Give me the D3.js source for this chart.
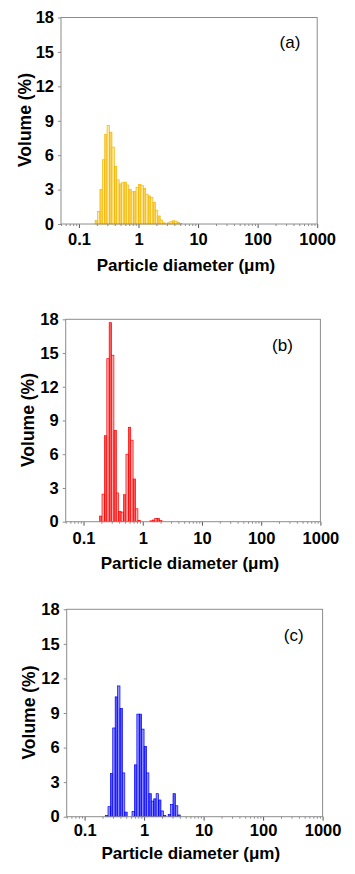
<!DOCTYPE html>
<html>
<head>
<meta charset="utf-8">
<script src="https://cdn.jsdelivr.net/npm/d3@7"></script>
<style>
  html, body { margin: 0; padding: 0; background: #fff; }
  svg { display: block; }
  text { font-family: "Liberation Sans", Arial, sans-serif; }
</style>
</head>
<body>
<svg id="chart" width="355" height="874"></svg>
<script>
// ---- data ----
// channel sizes (µm), bar centres
const sizes = [0.196, 0.215, 0.236, 0.259, 0.284, 0.311, 0.342, 0.375, 0.412, 0.452,
               0.496, 0.545, 0.598, 0.656, 0.721, 0.791, 0.868, 0.953, 1.047, 1.149,
               1.261, 1.385, 1.520, 1.669, 1.832, 2.011, 2.208, 2.423, 2.660, 2.920,
               3.206, 3.519, 3.863, 4.241, 4.656, 5.111];
// volume (%) per channel
const volA = [0.3, 1.1, 3.0, 5.6, 7.8, 8.6, 8.0, 6.7, 5.0, 3.85,
              3.5, 3.6, 3.65, 3.4, 3.0, 2.8, 2.85, 3.2, 3.45, 3.35,
              3.1, 2.6, 2.45, 2.3, 1.9, 1.2, 0.7, 0.35, 0.1, 0.03,
              0.1, 0.2, 0.28, 0.25, 0.15, 0.05];
const volB = [0.5, 2.45, 7.65, 14.5, 17.7, 14.8, 8.1, 2.55, 0.9, 0.85,
              2.4, 6.0, 8.4, 7.25, 3.8, 1.15, 0.12, 0, 0, 0,
              0, 0.08, 0.15, 0.28, 0.28, 0.12, 0, 0, 0, 0,
              0, 0, 0, 0, 0, 0];
const volC = [0, 0, 0.1, 0.87, 3.75, 7.7, 10.4, 11.35, 9.4, 3.8,
              0.4, 0, 0, 0.45, 4.5, 8.9, 8.9, 7.6, 6.1, 3.8,
              2.0, 1.35, 1.55, 2.0, 1.45, 0.5, 0.1, 0, 0.2, 1.05,
              2.0, 0.95, 0.15, 0, 0, 0];
const panelLabels = ["(a)", "(b)", "(c)"];
const yTicks = [0, 3, 6, 9, 12, 15, 18];
const xTicks = [0.1, 1, 10, 100, 1000];
const xTickLabels = ["0.1", "1", "10", "100", "1000"];
const xTitle = "Particle diameter (\u03BCm)";
const yTitle = "Volume (%)";

// ---- layout / style ----
const panels = [
  { vals: volA, label: panelLabels[0], left: 61, right: 317.2, top: 17.5, bottom: 224,
    stroke: "#f4b800", fill: "#fde9a8", xPad: 5, labX: 290, labY: 48,
    xtX: 186, xtY: 270.5, ytX: 31, ytY: 120 },
  { vals: volB, label: panelLabels[1], left: 65.7, right: 320.4, top: 319.3, bottom: 521.7,
    stroke: "#ff0000", fill: "#ffadad", xPad: 7, labX: 282.5, labY: 351,
    xtX: 190, xtY: 569.3, ytX: 34.3, ytY: 420 },
  { vals: volC, label: panelLabels[2], left: 66.7, right: 322.6, top: 609.3, bottom: 816.7,
    stroke: "#0000ff", fill: "#9090ff", xPad: 3.5, labX: 293.7, labY: 640.5,
    xtX: 190.8, xtY: 859.3, ytX: 34.5, ytY: 712.5 }
];

const svg = d3.select("#chart");
const frameColor = "#8c8c8c";

// minor tick values
const minorTicks = [];
for (let e = -2; e <= 2; e++) {
  for (let k = 2; k <= 9; k++) {
    const v = k * Math.pow(10, e);
    if (v >= 0.05 && v <= 1000) minorTicks.push(+v.toPrecision(3));
  }
}

panels.forEach(p => {
  const g = svg.append("g");
  const x = d3.scaleLog().domain([0.05, 1000]).range([p.left, p.right]);
  const y = d3.scaleLinear().domain([0, 18]).range([p.bottom, p.top]);
  const half = (x(sizes[1]) - x(sizes[0])) / 2;

  // bars
  const data = sizes.map((s, i) => ({ s, v: p.vals[i], i })).filter(d => d.v > 0);
  g.append("g").selectAll("rect").data(data).join("rect")
    .attr("x", d => x(d.s) - half)
    .attr("width", half * 2)
    .attr("y", d => y(d.v))
    .attr("height", d => y(0) - y(d.v))
    .attr("fill", d => d.i % 2 ? p.fill : p.stroke)
    .attr("fill-opacity", d => d.i % 2 ? 1 : 0.65)
    .attr("stroke", p.stroke)
    .attr("stroke-width", 0.7);

  // y axis
  const ya = g.append("g").attr("transform", `translate(${p.left},0)`)
    .call(d3.axisLeft(y).tickValues(yTicks).tickSize(3).tickPadding(4));
  ya.select(".domain").remove();
  ya.selectAll(".tick line").attr("stroke", frameColor);
  ya.selectAll(".tick text").attr("font-size", 16.5).attr("font-weight", "bold")
    .attr("fill", "#000").attr("font-family", "'Liberation Sans', Arial, sans-serif");

  // x axis major
  const xa = g.append("g").attr("transform", `translate(0,${p.bottom})`)
    .call(d3.axisBottom(x).tickValues(xTicks).tickFormat((d, i) => xTickLabels[i])
      .tickSize(4).tickPadding(p.xPad));
  xa.select(".domain").remove();
  xa.selectAll(".tick line").attr("stroke", "#555");
  xa.selectAll(".tick text").attr("font-size", 16.5).attr("font-weight", "bold")
    .attr("fill", "#000").attr("font-family", "'Liberation Sans', Arial, sans-serif");

  // x axis minor
  const xm = g.append("g").attr("transform", `translate(0,${p.bottom})`)
    .call(d3.axisBottom(x).tickValues(minorTicks).tickFormat("").tickSize(2));
  xm.select(".domain").remove();
  xm.selectAll(".tick line").attr("stroke", frameColor);

  // frame
  g.append("rect")
    .attr("x", p.left).attr("y", p.top)
    .attr("width", p.right - p.left).attr("height", p.bottom - p.top)
    .attr("fill", "none").attr("stroke", frameColor).attr("stroke-width", 1);

  // panel label
  g.append("text").attr("x", p.labX).attr("y", p.labY)
    .attr("text-anchor", "middle").attr("font-size", 17).attr("fill", "#000")
    .text(p.label);

  // axis titles
  g.append("text").attr("x", p.xtX).attr("y", p.xtY)
    .attr("text-anchor", "middle").attr("font-size", 17).attr("font-weight", "bold")
    .attr("fill", "#000").text(xTitle);
  g.append("text").attr("transform", "rotate(-90)")
    .attr("x", -p.ytY).attr("y", p.ytX)
    .attr("text-anchor", "middle").attr("font-size", 17.5).attr("font-weight", "bold")
    .attr("fill", "#000").text(yTitle);
});
</script>
</body>
</html>
